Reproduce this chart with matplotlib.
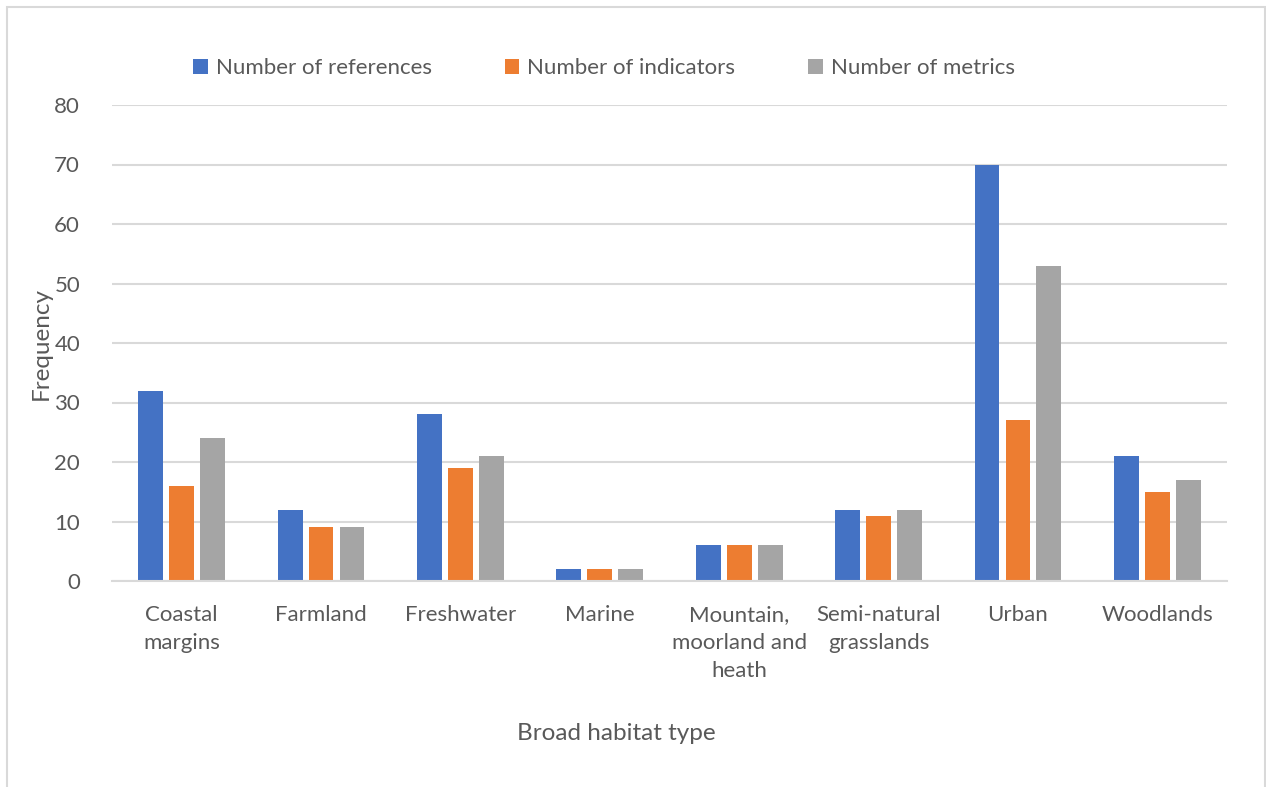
import numpy as np
import matplotlib.pyplot as plt
from matplotlib.patches import Rectangle

habitats = ["Coastal\nmargins", "Farmland", "Freshwater", "Marine",
            "Mountain,\nmoorland and\nheath", "Semi-natural\ngrasslands",
            "Urban", "Woodlands"]
references = [32, 12, 28, 2, 6, 12, 70, 21]
indicators = [16, 9, 19, 2, 6, 11, 27, 15]
metrics = [24, 9, 21, 2, 6, 12, 53, 17]

series_names = ["Number of references", "Number of indicators", "Number of metrics"]
colors = ["#4472C4", "#ED7D31", "#A5A5A5"]
text_color = "#595959"

plt.rcParams['font.family'] = ['Lato', 'DejaVu Sans']

fig = plt.figure(figsize=(12.66, 7.87), dpi=100)
ax = fig.add_axes([112/1266, 1-581/787, (1227-112)/1266, (581-105)/787])

# chart border
fig.patches.append(Rectangle((7/1266, -0.01), (1265-7)/1266, 1-7/787+0.01,
                             transform=fig.transFigure, fill=False,
                             edgecolor="#D9D9D9", lw=1.5))

x = np.arange(len(habitats))
width = 0.178
pitch = 0.222
for k, (vals, name, c) in enumerate(zip([references, indicators, metrics], series_names, colors)):
    ax.bar(x + (k - 1) * pitch, vals, width, color=c, label=name, zorder=3)

ax.set_xlim(-0.5, len(habitats) - 0.5)
ax.set_ylim(0, 80)
ax.set_yticks(range(0, 81, 10))
ax.yaxis.grid(True, color="#D9D9D9", lw=1.5, zorder=0)
for s in ["top", "right", "left"]:
    ax.spines[s].set_visible(False)
ax.spines["bottom"].set_color("#D9D9D9")
ax.spines["bottom"].set_linewidth(1.5)
ax.spines["bottom"].set_zorder(4)

ax.set_xticks(x)
ax.set_xticklabels(habitats, linespacing=1.5)
ax.tick_params(axis="both", length=0, labelsize=16, colors=text_color)
ax.tick_params(axis="x", pad=17)
ax.tick_params(axis="y", pad=23)

ax.set_ylabel("Frequency", fontsize=17.5, color=text_color)
ax.yaxis.set_label_coords(-60/1115, 0.5)
fig.text(616/1266, 1-733/787, "Broad habitat type", fontsize=17.5, color=text_color,
         ha="center", va="center")

ax.legend(loc="center", bbox_to_anchor=(604/1266, 1-68/787), bbox_transform=fig.transFigure,
          ncol=3, frameon=False, fontsize=16, labelcolor=text_color,
          handlelength=0.65, handleheight=0.65, handletextpad=0.35, columnspacing=3.3)

fig.savefig("out.png", dpi=100)
